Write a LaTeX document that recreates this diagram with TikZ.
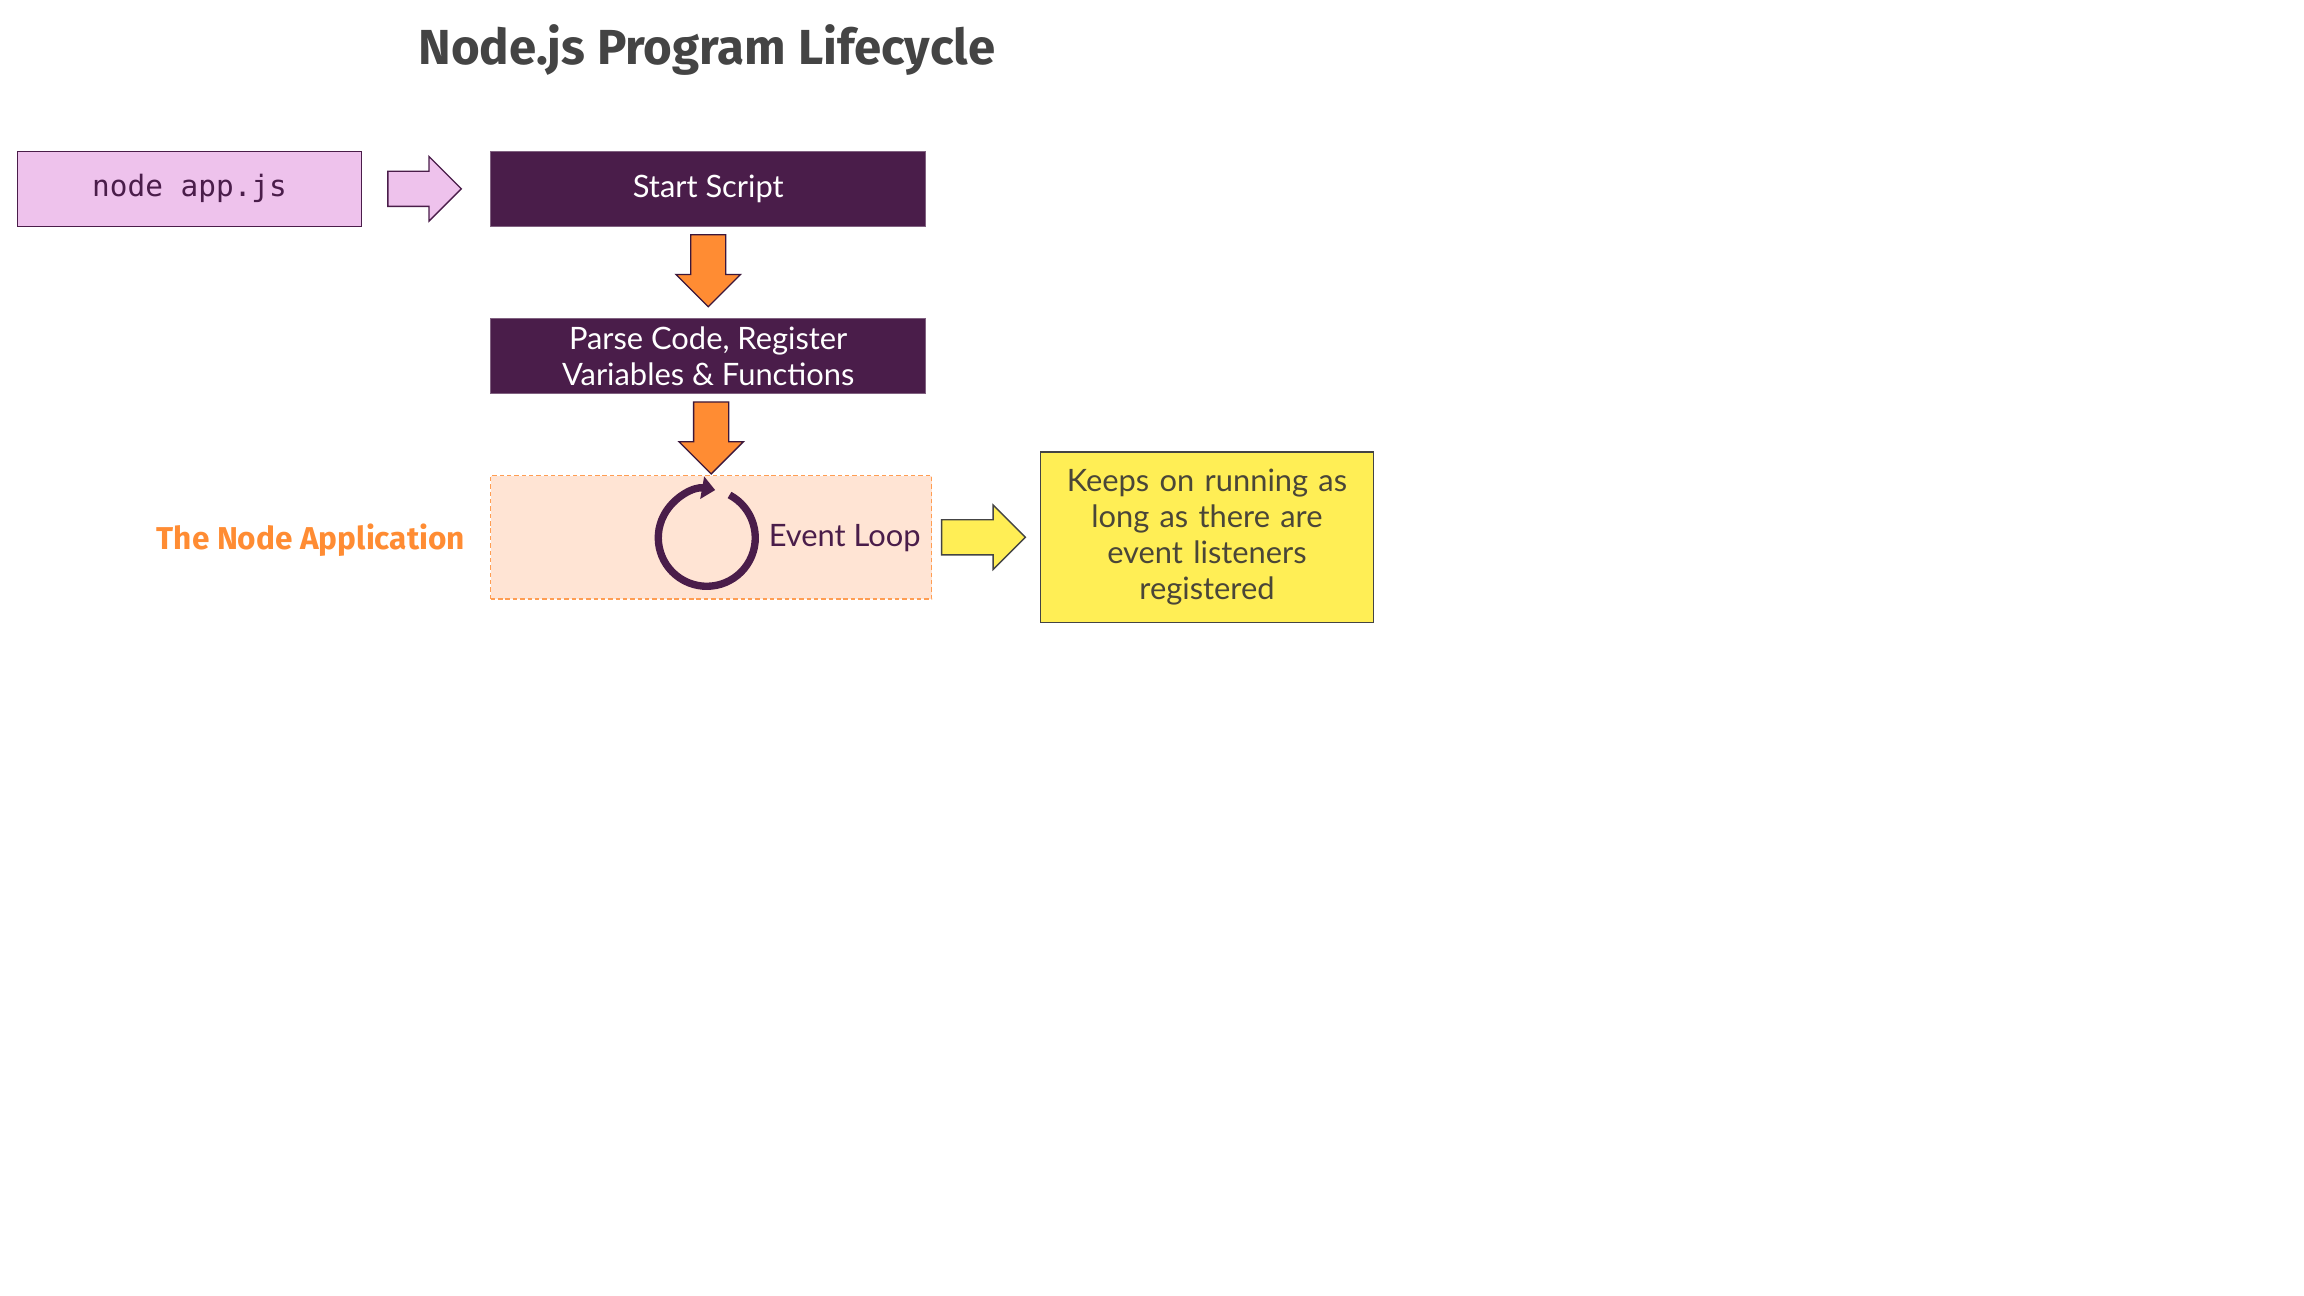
\documentclass[tikz,border=0pt]{standalone}
\usepackage{fontspec}
\setmainfont{Lato}
\setmonofont{DejaVu Sans Mono}
\newfontfamily\headfont{Fira Sans}
\usetikzlibrary{positioning,calc,shapes.arrows,arrows.meta}
\definecolor{Plum}{HTML}{4A1D4A}
\definecolor{Lilac}{HTML}{EEC2EC}
\definecolor{Tangerine}{HTML}{FF8C33}
\definecolor{Peach}{HTML}{FFE4D4}
\definecolor{Lemon}{HTML}{FFEE55}
\definecolor{Slate}{HTML}{444444}
\definecolor{Ink}{HTML}{4A4638}

\tikzset{
	stepbox/.style={fill=Plum, draw=Plum!70, line width=0.8pt, text=white,
		minimum width=296pt, minimum height=51pt, align=center,
		font=\fontsize{21}{24.5}\selectfont},
	blockarrow/.style={single arrow, line width=0.9pt, inner xsep=0pt, inner ysep=11.5pt,
		minimum height=#1, minimum width=43pt, single arrow head extend=10pt, anchor=tip},
	blockarrow/.default=49pt
}

\begin{document}
\begin{tikzpicture}[x=1pt,y=1pt]
	\useasboundingbox (0,0) rectangle (1568,-882);
	
	\node[font=\headfont\bfseries\fontsize{33.5}{40}\selectfont, text=Slate] (title) at (481,-34) {Node.js Program Lifecycle};
	
	% command and first steps
	\node[fill=Lilac, draw=Plum, line width=0.8pt, text=Plum,
		minimum width=234pt, minimum height=51pt,
		font=\ttfamily\fontsize{20}{24}\selectfont] (cmd) at (129,-128.5) {node app.js};
	\node[stepbox] (start) at (482,-128.5) {Start Script};
	\node[stepbox, below=62pt of start] (parse) {Parse Code, Register\\Variables \& Functions};
	
	% the node application
	\node[fill=Peach, draw=Tangerine!85, line width=0.9pt, dash pattern=on 3pt off 2pt,
		minimum width=300pt, minimum height=84pt,
		below=55pt of parse, xshift=2pt] (loopbox) {};
	\node[left=17pt of loopbox.west, inner sep=0pt, text=Tangerine,
		font=\headfont\bfseries\fontsize{21.5}{24}\selectfont, yshift=-2pt] (applabel) {The Node Application};
	\coordinate (ring) at (481,-366);
	\draw[Plum, line width=5pt, -{Triangle[length=9pt,width=15pt]}]
		($(ring)+(62:33)$) arc[start angle=62, end angle=-280, radius=33];
	\node[anchor=west, inner sep=0pt, text=Plum, font=\fontsize{21}{24}\selectfont] (looplabel)
		at ($(ring)+(42,0)$) {Event Loop};
	
	\node[fill=Lemon, draw=Slate, line width=0.9pt, text=Ink, align=center,
		text width=215pt, minimum width=227pt, minimum height=116pt,
		font=\fontsize{21}{24.5}\selectfont, right=73pt of loopbox] (keeps)
		{Keeps on running as\\long as there are\\event listeners\\registered};
	
	% block arrows
	\node[blockarrow=50pt, fill=Lilac, draw=Plum] (a1) at ($(start.west)+(-19,0)$) {};
	\node[blockarrow, fill=Tangerine, draw=Plum!80!black, rotate=-90] (a2) at ($(parse.north)+(0,7)$) {};
	\node[blockarrow, fill=Tangerine, draw=Plum!80!black, rotate=-90] (a3) at (loopbox.north) {};
	\node[blockarrow=57pt, fill=Lemon, draw=Slate] (a4) at ($(keeps.west)+(-9,0)$) {};
\end{tikzpicture}
\end{document}
